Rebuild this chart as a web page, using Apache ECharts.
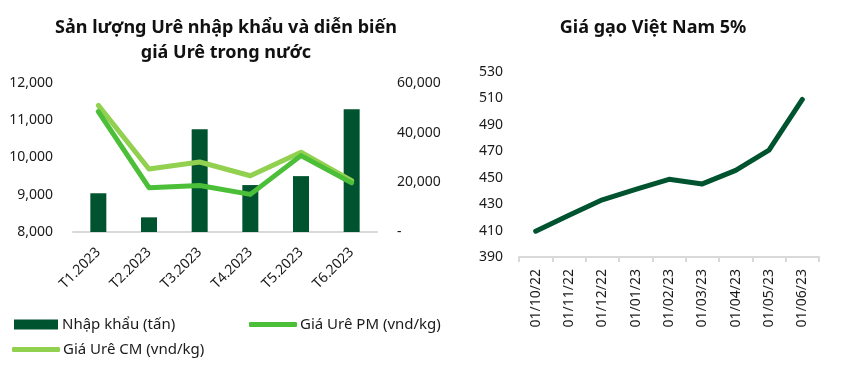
<!DOCTYPE html>
<html>
<head>
<meta charset="utf-8">
<script src="https://cdn.jsdelivr.net/npm/echarts@6/dist/echarts.min.js"></script>
<style>
html,body{margin:0;padding:0;background:#fff;}
#chart{width:847px;height:366px;}
</style>
</head>
<body>
<div id="chart"></div>
<script>
// Left chart data
var ureaMonths = ['T1.2023', 'T2.2023', 'T3.2023', 'T4.2023', 'T5.2023', 'T6.2023'];
var ureaImports = [15600, 5900, 41400, 18900, 22500, 49400];      // tấn (right axis)
var ureaPricePM = [11230, 9190, 9250, 9010, 10050, 9320];         // vnd/kg (left axis)
var ureaPriceCM = [11400, 9690, 9880, 9510, 10140, 9380];         // vnd/kg (left axis)
var ureaLeftTicks = [8000, 12000, 1000];
var ureaRightTicks = [0, 60000, 20000];

// Right chart data
var riceDates = ['01/10/22', '01/11/22', '01/12/22', '01/01/23', '01/02/23', '01/03/23', '01/04/23', '01/05/23', '01/06/23'];
var ricePrice = [409.5, 421.6, 433.3, 441.2, 448.8, 445.3, 455.6, 470.8, 509.2];
var riceTicks = [390, 530, 20];

var FONT = 'Noto Sans';
var TXT = '#1a1a1a';
var DARK = '#00532f';
var PM = '#4cbf38';
var CM = '#92d050';

function fmt(v) {
  var s = String(Math.round(v));
  return s.replace(/\B(?=(\d{3})+(?!\d))/g, ',');
}

var chart = echarts.init(document.getElementById('chart'), null, {renderer: 'canvas'});
var option = {
  backgroundColor: '#ffffff',
  animation: false,
  textStyle: {fontFamily: FONT},
  title: [
    {
      text: 'Sản lượng Urê nhập khẩu và diễn biến\ngiá Urê trong nước',
      left: 226, top: 15, textAlign: 'center', padding: 0,
      textStyle: {fontFamily: FONT, fontSize: 18, fontWeight: 'bold', color: '#111', lineHeight: 25}
    },
    {
      text: 'Giá gạo Việt Nam 5%',
      left: 653, top: 15, textAlign: 'center', padding: 0,
      textStyle: {fontFamily: FONT, fontSize: 18, fontWeight: 'bold', color: '#111', lineHeight: 25}
    }
  ],
  legend: [
    {
      data: [{name: 'Nhập khẩu (tấn)', icon: 'rect'}],
      left: 14, top: 317, padding: 0, itemWidth: 44, itemHeight: 10,
      textStyle: {fontFamily: FONT, fontSize: 15, color: TXT, padding: [0, 0, 0, -1]}
    },
    {
      data: [{name: 'Giá Urê PM (vnd/kg)', icon: 'roundRect'}],
      left: 249, top: 317, padding: 0, itemWidth: 48, itemHeight: 5,
      textStyle: {fontFamily: FONT, fontSize: 15, color: TXT, padding: [0, 0, 0, -2]}
    },
    {
      data: [{name: 'Giá Urê CM (vnd/kg)', icon: 'roundRect'}],
      left: 12, top: 342, padding: 0, itemWidth: 48, itemHeight: 5,
      textStyle: {fontFamily: FONT, fontSize: 15, color: TXT, padding: [0, 0, 0, -2]}
    }
  ],
  grid: [
    {left: 73, right: 470, top: 83, bottom: 134, containLabel: false},
    {left: 519, right: 28, top: 72, bottom: 109, containLabel: false}
  ],
  xAxis: [
    {
      type: 'category', gridIndex: 0, data: ureaMonths, boundaryGap: true,
      axisLine: {show: true, lineStyle: {color: '#d9d9d9', width: 2}},
      axisTick: {show: false},
      axisLabel: {rotate: 45, margin: 18, interval: 0, fontFamily: FONT, fontSize: 14, color: TXT}
    },
    {
      type: 'category', gridIndex: 1, data: riceDates, boundaryGap: true,
      axisLine: {show: true, lineStyle: {color: '#d9d9d9', width: 2}},
      axisTick: {show: true, alignWithLabel: false, length: 5, lineStyle: {color: '#d9d9d9', width: 2}},
      axisLabel: {rotate: 90, margin: 12, interval: 0, fontFamily: FONT, fontSize: 14, color: TXT}
    }
  ],
  yAxis: [
    {
      type: 'value', gridIndex: 0, min: ureaLeftTicks[0], max: ureaLeftTicks[1], interval: ureaLeftTicks[2],
      axisLine: {show: false}, axisTick: {show: false}, splitLine: {show: false},
      axisLabel: {margin: 20, fontFamily: FONT, fontSize: 14, color: TXT, formatter: function (v) { return fmt(v); }}
    },
    {
      type: 'value', gridIndex: 0, position: 'right', min: ureaRightTicks[0], max: ureaRightTicks[1], interval: ureaRightTicks[2],
      axisLine: {show: false}, axisTick: {show: false}, splitLine: {show: false},
      axisLabel: {margin: 20, fontFamily: FONT, fontSize: 14, color: TXT, formatter: function (v) { return v === 0 ? '-' : fmt(v); }}
    },
    {
      type: 'value', gridIndex: 1, min: riceTicks[0], max: riceTicks[1], interval: riceTicks[2],
      axisLine: {show: false}, axisTick: {show: false}, splitLine: {show: false},
      axisLabel: {margin: 16, fontFamily: FONT, fontSize: 14, color: TXT}
    }
  ],
  series: [
    {
      name: 'Nhập khẩu (tấn)', type: 'bar', xAxisIndex: 0, yAxisIndex: 1,
      data: ureaImports, barWidth: 16, itemStyle: {color: DARK}
    },
    {
      name: 'Giá Urê CM (vnd/kg)', type: 'line', xAxisIndex: 0, yAxisIndex: 0,
      data: ureaPriceCM, showSymbol: false, symbol: 'none',
      itemStyle: {color: CM},
      lineStyle: {color: CM, width: 5, cap: 'round', join: 'round'}
    },
    {
      name: 'Giá Urê PM (vnd/kg)', type: 'line', xAxisIndex: 0, yAxisIndex: 0,
      data: ureaPricePM, showSymbol: false, symbol: 'none',
      itemStyle: {color: PM},
      lineStyle: {color: PM, width: 5, cap: 'round', join: 'round'}
    },
    {
      name: 'Giá gạo Việt Nam 5%', type: 'line', xAxisIndex: 1, yAxisIndex: 2,
      data: ricePrice, showSymbol: false, symbol: 'none',
      itemStyle: {color: DARK},
      lineStyle: {color: DARK, width: 5, cap: 'round', join: 'round'}
    }
  ]
};
chart.setOption(option);
</script>
</body>
</html>
